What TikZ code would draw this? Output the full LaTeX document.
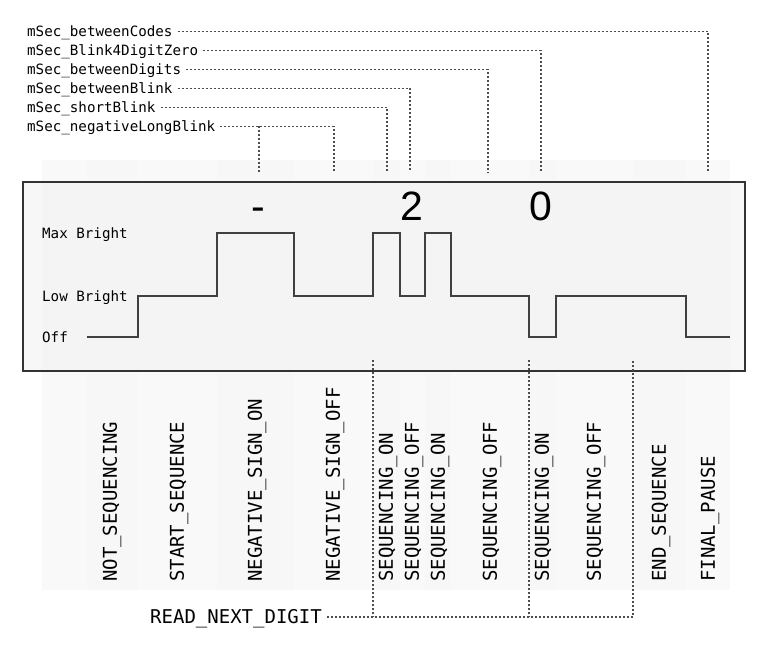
\documentclass[tikz,border=0pt]{standalone}
\usepackage{fontspec}
\setmainfont{Liberation Sans}
\setsansfont{Liberation Sans}
\setmonofont{DejaVu Sans Mono}
\usepackage{tikz}
\usetikzlibrary{positioning}
\tikzset{>=stealth}

\begin{document}
\begin{tikzpicture}[x=1pt,y=-1pt,
                    frame/.style={line width=1.8pt, draw=black!80, fill=black!5, fill opacity=.6},
                    wave/.style={line width=2.8pt, black!75, line join=miter},
                    leader/.style={line width=1.1pt, black!70, dash pattern=on 2pt off 2pt},
                    tag/.style={font=\fontsize{14.2}{16}\ttfamily, inner sep=0pt, anchor=west, text height=10.4pt, text depth=0pt},
                    mono/.style={font=\fontsize{19}{22}\ttfamily, inner sep=0pt, anchor=west, text height=13.9pt, text depth=0pt},
                    state/.style={mono, rotate=90},
                    digit/.style={font=\fontsize{41}{46}\sffamily, inner sep=0pt, anchor=base},
                   ]

\useasboundingbox (0,0) rectangle (766,650);

% column bands
\foreach \a/\b/\s in {42/87/2.5, 87/138/3.2, 138/217/2.5, 217/294/3.2, 294/373/2.5, 373/400/3.2, 400/425/2.5,
                      425/451/3.2, 451/529/2.5, 529/556/3.2, 556/633/2.5, 633/686/3.2, 686/730/2.5}
  \fill[black!\s] (\a,160) rectangle (\b,590);

\draw[frame] (23,182) rectangle (745,371);

% timing names
\node[tag] (lCodes)  at (27,31.5)  {mSec\_betweenCodes};
\node[tag] (lZero)   at (27,50.5)  {mSec\_Blink4DigitZero};
\node[tag] (lDigits) at (27,69.5)  {mSec\_betweenDigits};
\node[tag] (lBlink)  at (27,88.5)  {mSec\_betweenBlink};
\node[tag] (lShort)  at (27,107.5) {mSec\_shortBlink};
\node[tag] (lNeg)    at (27,126.5) {mSec\_negativeLongBlink};

\coordinate (tCodes)  at (708,172);
\coordinate (tZero)   at (541,172);
\coordinate (tDigits) at (488,172);
\coordinate (tBlink)  at (410,172);
\coordinate (tShort)  at (387,172);
\coordinate (tNegB)   at (334,172);
\coordinate (tNegA)   at (259,172);

\draw[leader] ([xshift=5pt]lCodes.east)  -| (tCodes);
\draw[leader] ([xshift=5pt]lZero.east)   -| (tZero);
\draw[leader] ([xshift=5pt]lDigits.east) -| (tDigits);
\draw[leader] ([xshift=5pt]lBlink.east)  -| (tBlink);
\draw[leader] ([xshift=5pt]lShort.east)  -| (tShort);
\draw[leader] ([xshift=5pt]lNeg.east)    -| (tNegB);
\draw[leader] (tNegA |- lNeg.east) -- (tNegA);

% levels
\node[tag] (lvMax) at (42,233) {Max Bright};
\node[tag] (lvLow) at (42,296) {Low Bright};
\node[tag] (lvOff) at (42,337) {Off};

\node[digit] (dMinus) at (258,220) {-};
\node[digit] (dTwo)   at (412,220) {2};
\node[digit] (dZero)  at (541,220) {0};

\draw[wave] (87,337) -- (138,337) -- (138,296) -- (217,296) -- (217,233) -- (294,233) -- (294,296)
            -- (373,296) -- (373,233) -- (400,233) -- (400,296) -- (425,296) -- (425,233) -- (451,233)
            -- (451,296) -- (529,296) -- (529,337) -- (556,337) -- (556,296) -- (686,296) -- (686,337)
            -- (730,337);

% states
\foreach \x/\n/\t in {110/sNot/NOT\_SEQUENCING, 177/sStart/START\_SEQUENCE, 255/sNegOn/NEGATIVE\_SIGN\_ON,
                      333/sNegOff/NEGATIVE\_SIGN\_OFF, 386/sOnA/SEQUENCING\_ON, 412/sOffA/SEQUENCING\_OFF,
                      438/sOnB/SEQUENCING\_ON, 490/sOffB/SEQUENCING\_OFF, 542/sOnC/SEQUENCING\_ON,
                      594/sOffC/SEQUENCING\_OFF, 659/sEnd/END\_SEQUENCE, 708/sPause/FINAL\_PAUSE}
  \node[state] (\n) at (\x,582) {\t};

\node[mono] (lRead) at (150,617) {READ\_NEXT\_DIGIT};

\coordinate (rA) at (373,360);
\coordinate (rB) at (529,360);
\coordinate (rC) at (633,360);

\draw[leader] ([xshift=5pt]lRead.east) -| (rC);
\draw[leader] (rA) -- (rA |- lRead.east);
\draw[leader] (rB) -- (rB |- lRead.east);

\end{tikzpicture}
\end{document}
